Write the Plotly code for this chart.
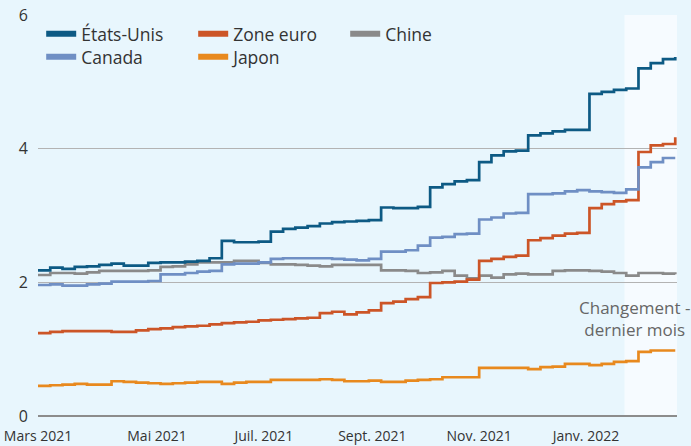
import pandas as pd
import plotly.graph_objects as go

# weekly observation dates (Mondays)
dates = pd.date_range("2021-02-22", periods=53, freq="7D")

etats_unis = [2.18, 2.22, 2.20, 2.23, 2.24, 2.26, 2.28, 2.25, 2.25, 2.29,
              2.30, 2.30, 2.31, 2.32, 2.36, 2.62, 2.60, 2.60, 2.61, 2.76,
              2.80, 2.82, 2.84, 2.88, 2.90, 2.91, 2.92, 2.93, 3.12, 3.11,
              3.11, 3.13, 3.42, 3.47, 3.51, 3.53, 3.80, 3.90, 3.96, 3.97,
              4.20, 4.23, 4.26, 4.28, 4.28, 4.82, 4.85, 4.88, 4.90, 5.20,
              5.28, 5.34, 5.37]
canada = [1.96, 1.97, 1.95, 1.95, 1.97, 1.98, 2.01, 2.01, 2.01, 2.02,
          2.12, 2.12, 2.14, 2.16, 2.17, 2.27, 2.28, 2.28, 2.30, 2.35,
          2.36, 2.36, 2.36, 2.36, 2.35, 2.34, 2.33, 2.35, 2.46, 2.46,
          2.48, 2.55, 2.67, 2.68, 2.72, 2.73, 2.94, 2.97, 3.03, 3.04,
          3.32, 3.32, 3.33, 3.36, 3.38, 3.36, 3.35, 3.34, 3.39, 3.72,
          3.80, 3.86, 3.86]
zone_euro = [1.24, 1.26, 1.27, 1.27, 1.27, 1.27, 1.26, 1.26, 1.28, 1.30,
             1.31, 1.33, 1.34, 1.35, 1.37, 1.39, 1.40, 1.41, 1.43, 1.44,
             1.45, 1.46, 1.47, 1.54, 1.56, 1.52, 1.55, 1.58, 1.69, 1.71,
             1.75, 1.78, 1.99, 2.00, 2.01, 2.04, 2.32, 2.35, 2.38, 2.40,
             2.63, 2.66, 2.70, 2.73, 2.74, 3.11, 3.17, 3.21, 3.23, 3.95,
             4.05, 4.07, 4.17]
chine = [2.11, 2.14, 2.14, 2.13, 2.15, 2.17, 2.17, 2.17, 2.17, 2.18,
         2.23, 2.24, 2.27, 2.30, 2.30, 2.30, 2.32, 2.32, 2.29, 2.27,
         2.27, 2.26, 2.25, 2.24, 2.26, 2.26, 2.26, 2.26, 2.18, 2.18,
         2.17, 2.14, 2.15, 2.17, 2.10, 2.06, 2.10, 2.07, 2.12, 2.13,
         2.12, 2.12, 2.17, 2.18, 2.18, 2.17, 2.16, 2.14, 2.10, 2.14,
         2.14, 2.13, 2.12]
japon = [0.45, 0.46, 0.47, 0.48, 0.47, 0.47, 0.52, 0.51, 0.50, 0.49,
         0.48, 0.49, 0.50, 0.51, 0.51, 0.48, 0.50, 0.51, 0.51, 0.54,
         0.54, 0.54, 0.54, 0.55, 0.54, 0.52, 0.52, 0.53, 0.51, 0.51,
         0.53, 0.54, 0.55, 0.58, 0.58, 0.58, 0.72, 0.72, 0.72, 0.72,
         0.70, 0.73, 0.74, 0.78, 0.78, 0.76, 0.78, 0.81, 0.82, 0.96,
         0.98, 0.98, 0.98]

tick_dates = ["2021-02-22", "2021-05-01", "2021-07-01", "2021-09-01",
              "2021-11-01", "2022-01-01"]
tick_labels = ["Mars 2021", "Mai 2021", "Juil. 2021", "Sept. 2021",
               "Nov. 2021", "Janv. 2022"]
x_range = ["2021-02-22", "2022-02-22"]
last_month = ["2022-01-23", "2022-02-22"]

# (name, values, colour, legend row, order in row)
series = [
    ("Japon", japon, "#e8891e", "legend2", 2),
    ("Chine", chine, "#8a8a8a", "legend", 3),
    ("Zone euro", zone_euro, "#cc5527", "legend", 2),
    ("Canada", canada, "#6f8fc4", "legend2", 1),
    ("États-Unis", etats_unis, "#0d5a84", "legend", 1),
]

fig = go.Figure()
for name, vals, color, leg, rank in series:
    fig.add_trace(go.Scatter(
        x=dates, y=vals, name=name, mode="lines", legendgroup=name,
        line=dict(color=color, width=2.7, shape="hv"),
        showlegend=False,
    ))
    # legend-only entry with a thick bar-like symbol
    fig.add_trace(go.Scatter(
        x=[None], y=[None], name=name, mode="lines", legendgroup=name,
        line=dict(color=color, width=6), legendrank=rank, showlegend=True,
        legend=leg,
    ))

fig.add_shape(type="rect", xref="x", yref="y",
              x0=last_month[0], x1=last_month[1], y0=0, y1=6,
              fillcolor="#f6fbff", line_width=0, layer="below")

fig.add_annotation(x=(634 - 38) / 639, y=(416 - 318) / 401,
                   xref="paper", yref="paper", xanchor="center", yanchor="middle",
                   text="Changement -<br>dernier mois", showarrow=False,
                   font=dict(family="Open Sans", size=17, color="#666666"),
                   align="center")

legend_style = dict(orientation="h", x=0.005, xanchor="left", yanchor="top",
                    entrywidth=107, entrywidthmode="pixels",
                    font=dict(size=17.5, color="#333333"),
                    bgcolor="rgba(0,0,0,0)", traceorder="normal",
                    itemwidth=30, tracegroupgap=0)

fig.update_layout(
    width=691, height=446,
    margin=dict(l=38, r=14, t=15, b=30, autoexpand=False),
    paper_bgcolor="#e8f6fd",
    plot_bgcolor="#e8f6fd",
    font=dict(family="Open Sans", color="#333333"),
    showlegend=True,
    legend=dict(y=0.998, **legend_style),
    legend2=dict(y=0.998 - 23 / 401, **legend_style),
)

fig.update_xaxes(type="date", range=x_range, tickvals=tick_dates,
                 ticktext=tick_labels, showgrid=False, zeroline=False,
                 showline=False, ticks="", automargin=False,
                 ticklabelstandoff=10,
                 tickfont=dict(size=14, color="#333333"))
fig.update_yaxes(range=[0, 6], tickvals=[0, 2, 4, 6], showgrid=True,
                 gridcolor="#b3b3b3", gridwidth=1, zeroline=True,
                 zerolinecolor="#8c8c8c", zerolinewidth=2, showline=False,
                 ticks="", automargin=False, ticklabelstandoff=9,
                 tickfont=dict(size=16, color="#333333"))

fig.write_html("out.html", config={"displayModeBar": False},
               post_script="document.body.style.margin='0';"
                           "document.body.style.background='#e8f6fd';")
